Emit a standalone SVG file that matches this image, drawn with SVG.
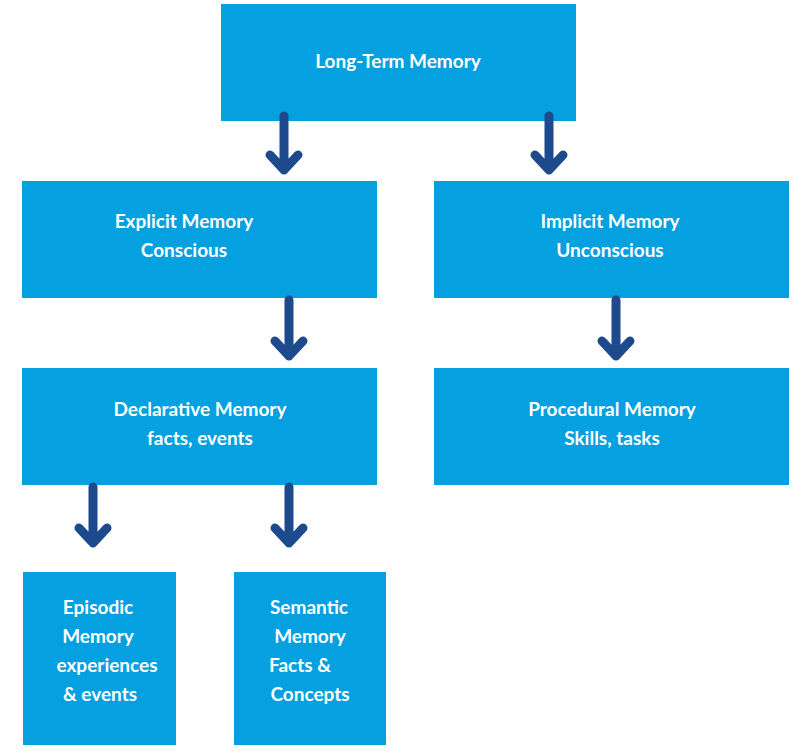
<svg xmlns="http://www.w3.org/2000/svg" width="800" height="753" viewBox="0 0 800 753">
<style>
.box{fill:#04a0e0}
.t{font-family:Lato,"Liberation Sans",sans-serif;font-weight:bold;font-size:19px;fill:#fff;text-anchor:middle}
.a{stroke:#1d4a8d;stroke-width:9;fill:none;stroke-linecap:round;stroke-linejoin:round}
</style>
<rect width="800" height="753" fill="#fff"/>
<g id="ltm"><rect class="box" x="221" y="4" width="355" height="117"/><text class="t" x="398" y="68">Long-Term Memory</text></g>
<g id="explicit"><rect class="box" x="22" y="181" width="355" height="117"/><text class="t" x="184" y="228">Explicit Memory</text><text class="t" x="184" y="257">Conscious</text></g>
<g id="implicit"><rect class="box" x="434" y="181" width="355" height="117"/><text class="t" x="610" y="228">Implicit Memory</text><text class="t" x="610" y="257">Unconscious</text></g>
<g id="declarative"><rect class="box" x="22" y="368" width="355" height="117"/><text class="t" x="200" y="416">Declarative Memory</text><text class="t" x="200" y="445">facts, events</text></g>
<g id="procedural"><rect class="box" x="434" y="368" width="355" height="117"/><text class="t" x="612" y="416">Procedural Memory</text><text class="t" x="612" y="445">Skills, tasks</text></g>
<g id="episodic"><rect class="box" x="23" y="572" width="153" height="173"/><text class="t" x="98" y="614">Episodic</text><text class="t" x="98" y="643">Memory</text><text class="t" x="107" y="672">experiences</text><text class="t" x="100" y="701">&amp; events</text></g>
<g id="semantic"><rect class="box" x="234" y="572" width="152" height="173"/><text class="t" x="309" y="614">Semantic</text><text class="t" x="310" y="643">Memory</text><text class="t" x="300" y="672">Facts &amp;</text><text class="t" x="310" y="701">Concepts</text></g>
<g id="connectors">
<path class="a" d="M284 116V170M270 155L284 170L298 155"/>
<path class="a" d="M549 116V170M535 155L549 170L563 155"/>
<path class="a" d="M289 300V356M275 341L289 356L303 341"/>
<path class="a" d="M616 300V356M602 341L616 356L630 341"/>
<path class="a" d="M93 487V543M79 528L93 543L107 528"/>
<path class="a" d="M289 487V543M275 528L289 543L303 528"/>
</g>
</svg>
